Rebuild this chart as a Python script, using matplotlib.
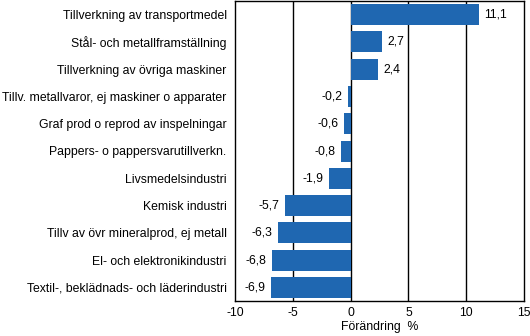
import matplotlib
matplotlib.use("Agg")
import matplotlib.pyplot as plt

plt.rcParams['font.family'] = ['Liberation Sans', 'DejaVu Sans']

categories = [
    "Tillverkning av transportmedel",
    "Stål- och metallframställning",
    "Tillverkning av övriga maskiner",
    "Tillv. metallvaror, ej maskiner o apparater",
    "Graf prod o reprod av inspelningar",
    "Pappers- o pappersvarutillverkn.",
    "Livsmedelsindustri",
    "Kemisk industri",
    "Tillv av övr mineralprod, ej metall",
    "El- och elektronikindustri",
    "Textil-, beklädnads- och läderindustri",
]
values = [11.1, 2.7, 2.4, -0.2, -0.6, -0.8, -1.9, -5.7, -6.3, -6.8, -6.9]
xticks = [-10, -5, 0, 5, 10, 15]

fs = 8.8

fig = plt.figure(figsize=(5.3, 3.36), dpi=100)
ax = fig.add_axes([235 / 530, 35 / 336, 289 / 530, 300 / 336])

ypos = list(range(len(categories)))
ax.barh(ypos, values, height=0.77, color='#1f67b1', zorder=3)

# vertical grid lines in black
for xv in xticks[1:-1]:
    ax.axvline(xv, color='black', linewidth=1, zorder=2)

for y, v in zip(ypos, values):
    lbl = f"{v:.1f}".replace('.', ',')
    if v >= 0:
        ax.annotate(lbl, (v, y), xytext=(4, 0), textcoords='offset points',
                    ha='left', va='center', fontsize=fs, zorder=4)
    else:
        ax.annotate(lbl, (v, y), xytext=(-4, 0), textcoords='offset points',
                    ha='right', va='center', fontsize=fs, zorder=4)

ax.set_xlim(-10, 15)
ax.set_ylim(len(categories) - 0.5, -0.5)
ax.set_xticks(xticks)
ax.set_xticklabels([str(t) for t in xticks], fontsize=fs)
ax.set_yticks(ypos)
ax.set_yticklabels(categories, fontsize=fs)
ax.tick_params(axis='both', length=0)
ax.tick_params(axis='y', pad=6)
ax.tick_params(axis='x', pad=4)
ax.set_xlabel("Förändring  %", fontsize=fs, labelpad=2)

for s in ax.spines.values():
    s.set_color('black')
    s.set_linewidth(1)

plt.savefig("out.png")
